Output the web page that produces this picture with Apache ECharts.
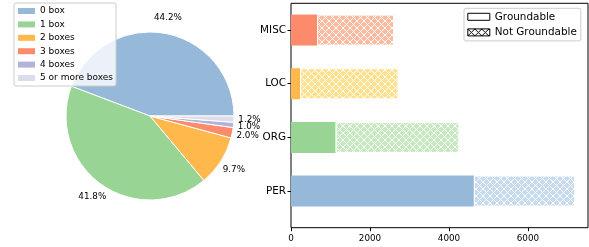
<!DOCTYPE html>
<html>
<head>
<meta charset="utf-8">
<script src="https://cdn.jsdelivr.net/npm/echarts@6/dist/echarts.min.js"></script>
<style>
  html, body { margin: 0; padding: 0; background: #fff; }
  #main { width: 589px; height: 247px; }
</style>
</head>
<body>
<div id="main"></div>
<script>
// share of entities by number of grounding boxes (pie)
var boxLabels = ['0 box', '1 box', '2 boxes', '3 boxes', '4 boxes', '5 or more boxes'];
var boxShares = [44.2, 41.8, 9.7, 2.0, 1.0, 1.2];

// entity counts by type (stacked bars)
var entityTypes = ['PER', 'ORG', 'LOC', 'MISC'];
var groundable = [4630, 1130, 230, 660];
var notGroundable = [2560, 3130, 2490, 1950];
var countTicks = [0, 2000, 4000, 6000];

var fullColors = ['#97b9d9', '#98d494', '#feb84b', '#fc8b6b', '#b3b3d8', '#dcdcec'];
var lightColors = ['#c6dbef', '#c7e9c0', '#ffe08c', '#fcbba1'];
var FONT = 'DejaVu Sans';

// cross hatch ("xx") as a repeating canvas pattern, drawn pixel by pixel so it stays crisp
function hatch(bg, line, size){
    var c = document.createElement('canvas');
    c.width = size; c.height = size;
    var ctx = c.getContext('2d');
    ctx.fillStyle = bg;
    ctx.fillRect(0, 0, size, size);
    ctx.fillStyle = line;
    for (var k = 0; k < size; k++) {
        ctx.fillRect(k, k, 1, 1);
        ctx.fillRect(size - 1 - k, k, 1, 1);
    }
    return { image: c, repeat: 'repeat' };
}

var myChart = echarts.init(document.getElementById('main'), null, { renderer: 'canvas' });

var option = {
    animation: false,
    backgroundColor: '#fff',
    textStyle: { fontFamily: FONT },
    legend: [
        {
            orient: 'vertical',
            left: 14, top: 3,
            padding: [3, 3, 3, 4],
            itemWidth: 17, itemHeight: 6,
            itemGap: 3.4, itemTextGap: 8,
            icon: 'rect',
            selectedMode: false,
            backgroundColor: 'rgba(255,255,255,0.8)',
            borderColor: '#cccccc', borderWidth: 1, borderRadius: 2,
            textStyle: { fontFamily: FONT, fontSize: 9, lineHeight: 10, color: '#000' },
            data: boxLabels.map(function(n, i){
                return { name: n, itemStyle: { color: fullColors[i], borderWidth: 0 } };
            })
        },
        {
            orient: 'vertical',
            left: 464, top: 8.3,
            padding: [2.5, 4, 2.5, 3.3],
            itemWidth: 22, itemHeight: 7,
            itemGap: 3.6, itemTextGap: 7.7,
            icon: 'rect',
            selectedMode: false,
            backgroundColor: '#fff',
            borderColor: '#cccccc', borderWidth: 1, borderRadius: 2,
            textStyle: { fontFamily: FONT, fontSize: 10.4, lineHeight: 12, color: '#000' },
            data: [
                { name: 'Groundable', itemStyle: { color: '#fff', borderColor: '#000', borderWidth: 1 } },
                { name: 'Not Groundable', itemStyle: { color: hatch('#fff', '#000', 7), borderColor: '#000', borderWidth: 1 } }
            ]
        }
    ],
    grid: [
        { left: 291, top: 3.2, width: 297, height: 214.7 },
        { left: 291, top: 3.3, width: 297, height: 224.4, show: true, borderColor: '#000', borderWidth: 1, backgroundColor: 'transparent' }
    ],
    xAxis: [
        { gridIndex: 0, type: 'value', min: 0, max: 7520, show: false },
        {
            gridIndex: 1, type: 'value', min: 0, max: 7520,
            axisLine: { show: false },
            axisTick: { show: true, length: 3.5, lineStyle: { color: '#000' }, customValues: countTicks },
            axisLabel: {
                fontFamily: FONT, fontSize: 8.8, color: '#000', margin: 7, customValues: countTicks,
                formatter: function(v){ return String(v); }
            },
            splitLine: { show: false }
        }
    ],
    yAxis: [
        {
            gridIndex: 0, type: 'category', data: entityTypes,
            axisLine: { show: false },
            axisTick: { show: true, alignWithLabel: true, length: 3.5, lineStyle: { color: '#000' } },
            axisLabel: { fontFamily: FONT, fontSize: 10.4, color: '#000', margin: 5 },
            splitLine: { show: false }
        },
        { gridIndex: 1, type: 'value', min: 0, max: 1, show: false }
    ],
    series: [
        {
            name: 'boxes',
            type: 'pie',
            center: [150, 116],
            radius: 84,
            startAngle: 0,
            clockwise: false,
            silent: true,
            label: { show: false },
            labelLine: { show: false },
            itemStyle: { borderColor: '#fff', borderWidth: 1 },
            data: boxLabels.map(function(n, i){
                return { name: n, value: boxShares[i], itemStyle: { color: fullColors[i] } };
            })
        },
        {
            // transparent ring, only used to place the percentage texts
            name: 'pct',
            type: 'pie',
            center: [150, 116],
            radius: [0, 193.2],
            startAngle: 0,
            clockwise: false,
            silent: true,
            avoidLabelOverlap: false,
            labelLayout: { hideOverlap: false },
            z: 3,
            itemStyle: { color: 'rgba(0,0,0,0)' },
            label: {
                show: true,
                position: 'inside',
                fontFamily: FONT, fontSize: 8.8, color: '#000',
                formatter: function(p){ return boxShares[p.dataIndex].toFixed(1) + '%'; }
            },
            labelLine: { show: false },
            data: boxShares.map(function(v){ return { value: v }; })
        },
        {
            name: 'Groundable',
            type: 'bar',
            xAxisIndex: 0, yAxisIndex: 0,
            stack: 'count',
            barWidth: 31,
            silent: true,
            data: groundable.map(function(v, i){
                return { value: v, itemStyle: { color: fullColors[i] } };
            })
        },
        {
            name: 'Not Groundable',
            type: 'bar',
            xAxisIndex: 0, yAxisIndex: 0,
            stack: 'count',
            barWidth: 31,
            silent: true,
            data: notGroundable.map(function(v, i){
                return { value: v, itemStyle: { color: hatch(lightColors[i], '#fff', 7), borderColor: '#fff', borderWidth: 1 } };
            })
        }
    ]
};

myChart.setOption(option);
</script>
</body>
</html>
